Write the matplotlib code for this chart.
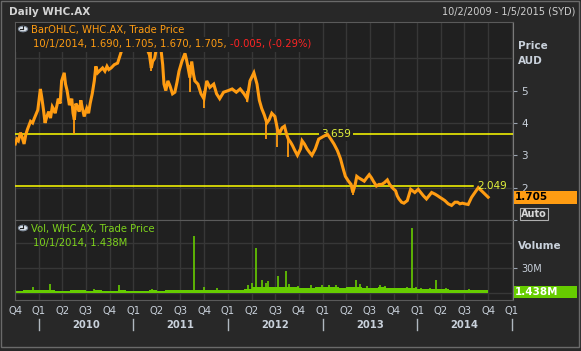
import matplotlib
matplotlib.use("Agg")
import matplotlib.pyplot as plt
import matplotlib.transforms as mtrans
from matplotlib.patches import Rectangle, Circle
import pandas as pd

# =========================
# DATA
# =========================
price_dates = [
    "2009-10-02", "2009-10-08", "2009-10-14", "2009-10-22", "2009-10-27", "2009-11-05",
    "2009-11-12", "2009-11-18", "2009-11-30", "2009-12-08", "2009-12-15", "2009-12-28",
    "2010-01-07", "2010-01-13", "2010-01-19", "2010-01-25", "2010-02-01", "2010-02-08",
    "2010-02-15", "2010-02-22", "2010-03-01", "2010-03-05", "2010-03-12", "2010-03-17",
    "2010-03-24", "2010-03-30", "2010-04-09", "2010-04-14", "2010-04-20", "2010-04-29",
    "2010-05-08", "2010-05-13", "2010-05-18", "2010-05-24", "2010-05-30", "2010-06-06",
    "2010-06-12", "2010-06-18", "2010-06-25", "2010-07-05", "2010-07-12", "2010-07-18",
    "2010-07-26", "2010-08-03", "2010-08-09", "2010-08-16", "2010-08-22", "2010-09-04",
    "2010-09-13", "2010-09-21", "2010-09-28", "2010-10-07", "2010-10-19", "2010-11-01",
    "2010-11-13", "2010-11-26", "2010-12-08", "2010-12-20", "2011-01-04", "2011-01-12",
    "2011-01-24", "2011-02-07", "2011-02-22", "2011-03-04", "2011-03-11", "2011-03-16",
    "2011-03-24", "2011-04-06", "2011-04-17", "2011-04-24", "2011-04-29", "2011-05-06",
    "2011-05-14", "2011-05-22", "2011-06-01", "2011-06-10", "2011-06-18", "2011-06-26",
    "2011-07-07", "2011-07-19", "2011-07-25", "2011-07-30", "2011-08-07", "2011-08-14",
    "2011-08-21", "2011-08-26", "2011-09-07", "2011-09-19", "2011-09-30", "2011-10-11",
    "2011-10-23", "2011-11-07", "2011-11-18", "2011-11-30", "2011-12-15", "2012-01-02",
    "2012-01-17", "2012-02-02", "2012-02-17", "2012-03-03", "2012-03-15", "2012-03-26",
    "2012-04-10", "2012-04-22", "2012-05-01", "2012-05-10", "2012-05-20", "2012-05-30",
    "2012-06-08", "2012-06-18", "2012-06-30", "2012-07-10", "2012-07-19", "2012-07-28",
    "2012-08-06", "2012-08-14", "2012-08-21", "2012-08-30", "2012-09-06", "2012-09-15",
    "2012-09-25", "2012-10-07", "2012-10-13", "2012-10-22", "2012-11-01", "2012-11-10",
    "2012-11-20", "2012-12-03", "2012-12-16", "2013-01-07", "2013-01-19", "2013-02-01",
    "2013-02-13", "2013-02-26", "2013-03-10", "2013-03-20", "2013-03-29", "2013-04-10",
    "2013-04-20", "2013-04-27", "2013-05-06", "2013-05-12", "2013-05-20", "2013-05-31",
    "2013-06-10", "2013-06-19", "2013-06-29", "2013-07-08", "2013-07-15", "2013-07-27",
    "2013-08-06", "2013-08-16", "2013-08-26", "2013-09-07", "2013-09-16", "2013-09-26",
    "2013-10-09", "2013-10-15", "2013-10-22", "2013-11-01", "2013-11-10", "2013-11-23",
    "2013-12-06", "2013-12-14", "2013-12-22", "2014-01-04", "2014-01-14", "2014-01-24",
    "2014-02-05", "2014-02-15", "2014-02-25", "2014-03-10", "2014-03-20", "2014-03-29",
    "2014-04-08", "2014-04-17", "2014-04-30", "2014-05-13", "2014-05-26", "2014-06-05",
    "2014-06-14", "2014-06-24", "2014-07-03", "2014-07-16", "2014-07-29", "2014-08-11",
    "2014-08-24", "2014-08-30", "2014-09-06", "2014-09-19", "2014-10-01",
]
price_close = [
    3.35, 3.50, 3.45, 3.70, 3.60, 3.35,
    3.65, 3.80, 4.05, 4.00, 4.15, 4.40,
    5.05, 4.75, 4.40, 4.00, 4.20, 4.35,
    4.15, 4.50, 4.40, 4.30, 4.55, 4.75,
    4.60, 5.30, 5.55, 5.20, 5.00, 4.55,
    4.75, 4.30, 4.10, 4.60, 4.50, 4.35,
    4.70, 4.45, 4.20, 4.45, 4.30, 4.60,
    4.90, 5.30, 5.75, 5.55, 5.60, 5.70,
    5.60, 5.75, 5.65, 5.70, 5.80, 5.85,
    6.15, 6.50, 6.70, 6.85, 6.60, 6.30,
    6.70, 6.80, 6.30, 6.10, 5.70, 5.90,
    6.00, 6.60, 6.30, 5.80, 5.20, 5.00,
    5.30, 5.15, 4.90, 4.95, 5.25, 5.60,
    5.90, 6.15, 5.95, 5.75, 5.40, 5.90,
    5.50, 5.30, 5.20, 4.90, 4.75, 5.30,
    5.10, 5.20, 4.90, 4.75, 4.95, 5.00,
    5.05, 4.95, 5.05, 4.90, 4.75, 5.30,
    5.55, 5.20, 4.70, 4.45, 4.25, 4.00,
    4.10, 4.30, 4.20, 3.80, 3.70, 3.85,
    3.90, 3.65, 3.50, 3.40, 3.30, 3.15,
    3.00, 3.20, 3.45, 3.35, 3.20, 3.10,
    3.00, 3.20, 3.50, 3.60, 3.65, 3.50,
    3.35, 3.15, 2.90, 2.60, 2.35, 2.20,
    2.10, 1.85, 2.10, 2.35, 2.30, 2.25,
    2.20, 2.30, 2.40, 2.30, 2.20, 2.05,
    2.10, 2.10, 2.15, 2.24, 2.10, 2.00,
    1.90, 1.75, 1.65, 1.55, 1.52, 1.60,
    1.95, 1.90, 1.85, 1.95, 1.85, 1.75,
    1.65, 1.75, 1.85, 1.80, 1.75, 1.70,
    1.65, 1.60, 1.50, 1.45, 1.55, 1.55,
    1.50, 1.52, 1.50, 1.48, 1.70, 1.85,
    2.00, 1.95, 1.90, 1.80, 1.705,
]

# long daily wicks that stick out of the close line
wick_dates = ["2010-05-18", "2011-03-11", "2011-08-07", "2011-09-30", "2012-03-15",
              "2012-05-28", "2012-07-10", "2012-08-21", "2013-04-27"]
wick_lows = [3.65, 5.60, 4.97, 4.45, 4.65, 3.50, 3.27, 2.95, 1.77]
wick_highs = [4.40, 6.40, 5.80, 5.00, 5.00, 4.10, 3.90, 3.55, 2.00]

# monthly typical volume level (millions)
vol_base_dates = pd.date_range("2009-10-01", "2014-09-01", freq="MS")
vol_base = [
    2.5, 3.0, 3.0,
    3.0, 3.0, 2.5, 2.5, 3.0, 3.0, 2.5, 3.0, 2.5, 2.5, 3.0, 2.5,
    2.5, 2.5, 3.0, 2.5, 3.0, 3.0, 3.0, 3.5, 3.5, 3.5, 3.0, 3.0,
    3.0, 3.5, 5.0, 6.5, 7.5, 7.0, 6.5, 7.5, 6.5, 5.5, 6.0, 6.5,
    6.5, 6.5, 5.5, 7.0, 6.5, 6.0, 5.5, 6.5, 5.5, 6.0, 5.5, 6.0,
    5.0, 5.0, 5.0, 4.5, 4.0, 3.5, 4.0, 4.0, 3.5,
]
# single heavy-volume days (millions)
vol_spike_dates = [
    "2009-12-10", "2010-02-12", "2010-08-01", "2010-11-05", "2011-03-15", "2011-08-22",
    "2011-09-30", "2011-11-20", "2012-03-20", "2012-04-03", "2012-04-20", "2012-05-10",
    "2012-05-25", "2012-06-05", "2012-07-12", "2012-08-12", "2012-08-25", "2012-09-28",
    "2012-11-15", "2012-12-30", "2013-01-25", "2013-02-20", "2013-05-08", "2013-05-25",
    "2013-06-20", "2013-08-10", "2013-08-28", "2013-10-20", "2013-11-20", "2013-12-10",
    "2013-12-28", "2014-01-15", "2014-02-20", "2014-03-12", "2014-04-20", "2014-07-20",
]
vol_spikes = [
    7, 11, 5, 9, 5, 68,
    7, 6, 9, 12, 54, 16,
    12, 14, 20, 26, 11, 8,
    9, 10, 9, 9, 15, 11,
    8, 9, 8, 6, 7, 78,
    7, 6, 6, 15, 6, 5,
]

price_levels = [3.659, 2.049]
last_price = "1.705"
last_volume = "1.438M"

# =========================
# STYLE
# =========================
W, H = 581, 351
BG = "#282828"
PANEL = "#202020"
GRID = "#373737"
FRAME = "#5a5a5a"
ORANGE = "#ff9c12"
YELLOW = "#ffff00"
LEVEL_TXT = "#e2f23c"
GREEN = "#66cc00"
LABEL = "#c9d1db"
plt.rcParams["font.family"] = "DejaVu Sans"


def fx(x):
    return x / W


def fy(y):
    return 1 - y / H


fig = plt.figure(figsize=(W / 100, H / 100), dpi=100, facecolor=BG)

# outer frame
fig.patches.append(Rectangle((fx(1), fy(347)), fx(578), 346 / H, transform=fig.transFigure,
                             fill=False, edgecolor="#6a6a6a", lw=1))

ax = fig.add_axes([fx(15), fy(220), 498 / W, 198 / H], facecolor=PANEL)
axv = fig.add_axes([fx(15), fy(300), 498 / W, 80 / H], facecolor=PANEL)

dates = pd.to_datetime(price_dates)
x0, x1 = pd.Timestamp("2009-10-01"), pd.Timestamp("2015-01-05")
quarters = pd.date_range("2009-10-01", "2015-01-01", freq="QS")

for a in (ax, axv):
    a.set_xlim(x0, x1)
    for q in quarters:
        a.axvline(q, color=GRID, lw=1, zorder=0)
    for s in a.spines.values():
        s.set_color(FRAME)
    a.spines["right"].set_color("#7a7a7a")
    a.tick_params(axis="x", length=0, labelbottom=False)

# =========================
# PRICE PANEL
# =========================
ax.set_ylim(1.0, 7.12)
for lv in [2, 3, 4, 5, 6]:
    ax.axhline(lv, color=GRID, lw=1, zorder=0)

ax.plot(dates, price_close, color=ORANGE, lw=2.2, zorder=4, solid_joinstyle="miter")
ax.vlines(pd.to_datetime(wick_dates), wick_lows, wick_highs, color=ORANGE, lw=1.3, zorder=4)

ax.axhline(price_levels[0], color=YELLOW, lw=1.1, zorder=3)
ax.axhline(price_levels[1], color=YELLOW, lw=1.1, xmax=0.92, zorder=3)
ax.text(0.645, price_levels[0], f"{price_levels[0]:.3f}", transform=ax.get_yaxis_transform(),
        color=LEVEL_TXT, fontsize=7.5, ha="center", va="center", zorder=3,
        bbox=dict(facecolor=PANEL, edgecolor="none", pad=1.5))
ax.text(0.928, price_levels[1], f"{price_levels[1]:.3f}", transform=ax.get_yaxis_transform(),
        color=LEVEL_TXT, fontsize=7.5, ha="left", va="center", zorder=5)

ax.yaxis.tick_right()
ax.set_yticks([1, 2, 3, 4, 5])
ax.set_yticklabels(["", "2", "3", "4", "5"])
ax.tick_params(axis="y", colors="#9aa4b0", labelcolor=LABEL, labelsize=7.5, length=3, pad=3)

# =========================
# VOLUME PANEL
# =========================
axv.set_ylim(-8.5e6, 87.5e6)
for lv in [0, 30e6, 60e6]:
    axv.axhline(lv, color=GRID, lw=1, zorder=0)
axv.bar(vol_base_dates, [v * 1e6 for v in vol_base], width=31, align="edge",
        color=GREEN, zorder=2)
axv.vlines(pd.to_datetime(vol_spike_dates), 0, [v * 1e6 for v in vol_spikes],
           color=GREEN, lw=1.2, zorder=2)
axv.yaxis.tick_right()
axv.set_yticks([30e6])
axv.set_yticklabels(["30M"])
axv.tick_params(axis="y", colors="#9aa4b0", labelcolor=LABEL, labelsize=7, length=3, pad=3)

# quarter and year labels under the volume panel
qtr_names = ["Q%d" % ((q.month - 1) // 3 + 1) for q in quarters]
xform = mtrans.blended_transform_factory(axv.transData, axv.transAxes)
for q, name in zip(quarters, qtr_names):
    axv.text(q, -0.07, name, transform=xform, ha="center", va="top",
             fontsize=7.2, color=LABEL, clip_on=False)
for yr in range(2010, 2015):
    axv.text(pd.Timestamp(f"{yr}-07-02"), -0.31, str(yr), transform=xform, ha="center",
             va="center", fontsize=7.2, fontweight="bold", color=LABEL, clip_on=False)
for yr in range(2010, 2016):
    axv.plot([pd.Timestamp(f"{yr}-01-01")] * 2, [-0.24, -0.38], transform=xform,
             color="#b0b8c0", lw=1, clip_on=False)

# =========================
# HEADER / LEGENDS / RIGHT COLUMN
# =========================
fig.text(fx(9), fy(12), "Daily WHC.AX", color="#d4d4d4", fontsize=7.5, fontweight="bold",
         va="center")
fig.text(fx(575), fy(12), "10/2/2009 - 1/5/2015 (SYD)", color="#cfcfcf", fontsize=7,
         ha="right", va="center")


def clock(cx, cy):
    fig.patches.append(Circle((fx(cx), fy(cy)), 4.6 / W, transform=fig.transFigure,
                              facecolor="#dfe6ee", edgecolor="#7f8b99", lw=0.8, zorder=10))
    fig.lines.append(plt.Line2D([fx(cx), fx(cx)], [fy(cy), fy(cy - 3)],
                                transform=fig.transFigure, color="#202020", lw=0.8, zorder=11))
    fig.lines.append(plt.Line2D([fx(cx), fx(cx - 3)], [fy(cy), fy(cy)],
                                transform=fig.transFigure, color="#202020", lw=0.8, zorder=11))


# dark boxes behind the price legend lines (they hide the bars beneath)
fig.patches.append(Rectangle((fx(16), fy(37)), 171 / W, 14 / H, transform=fig.transFigure,
                             facecolor=PANEL, edgecolor="none", zorder=8))
fig.patches.append(Rectangle((fx(16), fy(52)), 298 / W, 15 / H, transform=fig.transFigure,
                             facecolor=PANEL, edgecolor="none", zorder=8))

clock(23, 29)
fig.text(fx(31), fy(30), "BarOHLC, WHC.AX, Trade Price", color=ORANGE, fontsize=7.2,
         va="center", zorder=9)
t2 = fig.text(fx(33), fy(44), "10/1/2014, 1.690, 1.705, 1.670, 1.705, ", color=ORANGE,
              fontsize=7.2, va="center", zorder=9)
fig.canvas.draw()
bb = t2.get_window_extent()
fig.text(bb.x1 / W, fy(44), "-0.005, (-0.29%)", color="#ff2424", fontsize=7.2, va="center",
         zorder=9)

clock(23, 228)
fig.text(fx(31), fy(229), "Vol, WHC.AX, Trade Price", color="#7dd31c", fontsize=7.2,
         va="center", zorder=9)
fig.text(fx(33), fy(243), "10/1/2014, " + last_volume, color="#7dd31c", fontsize=7.2,
         va="center", zorder=9)

fig.text(fx(518), fy(46), "Price", color=LABEL, fontsize=7.5, fontweight="bold", va="center")
fig.text(fx(518), fy(61), "AUD", color=LABEL, fontsize=7.5, fontweight="bold", va="center")
fig.text(fx(518), fy(246), "Volume", color=LABEL, fontsize=7.5, fontweight="bold", va="center")

fig.patches.append(Rectangle((fx(514), fy(204)), 63 / W, 13 / H, transform=fig.transFigure,
                             facecolor=ORANGE, edgecolor="none", zorder=5))
fig.text(fx(515), fy(197.5), last_price, color="#000000", fontsize=7.5, fontweight="bold",
         va="center", zorder=6)
fig.patches.append(Rectangle((fx(520), fy(220)), 28 / W, 12 / H, transform=fig.transFigure,
                             facecolor="#2a2a2a", edgecolor="#b0b0b0", lw=0.8, zorder=5))
fig.text(fx(534), fy(214), "Auto", color="#d8d8d8", fontsize=7, fontweight="bold",
         ha="center", va="center", zorder=6)

fig.patches.append(Rectangle((fx(514), fy(298)), 63 / W, 12.5 / H, transform=fig.transFigure,
                             facecolor=GREEN, edgecolor="none", zorder=5))
fig.text(fx(515), fy(292), last_volume, color="#ffffff", fontsize=7.5, fontweight="bold",
         va="center", zorder=6)

fig.savefig("out.png", dpi=100, facecolor=BG)
